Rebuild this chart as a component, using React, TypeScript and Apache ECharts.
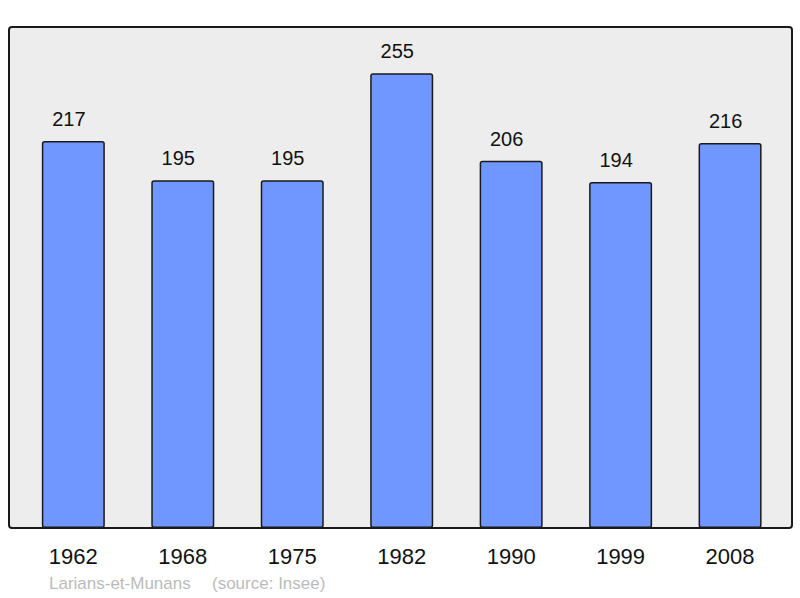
import React, { useEffect, useRef } from "react";
import * as echarts from "echarts";

const years = ["1962", "1968", "1975", "1982", "1990", "1999", "2008"];
const population = [217, 195, 195, 255, 206, 194, 216];
const communeName = "Larians-et-Munans";
const sourceNote = "(source: Insee)";

export default function App() {
  const ref = useRef<HTMLDivElement>(null);
  useEffect(() => {
    document.body.style.margin = "0";
    const chart = echarts.init(ref.current!, null, { renderer: "svg" });
    const font = "'Liberation Sans', Arial, sans-serif";
    chart.setOption({
      animation: false,
      backgroundColor: "#ffffff",
      textStyle: { fontFamily: font },
      graphic: [
        {
          type: "rect",
          z: -1,
          shape: { x: 9, y: 27, width: 783, height: 501, r: 3 },
          style: { fill: "#ededed", stroke: "#1a1a1a", lineWidth: 2 },
        },
        {
          type: "text",
          left: 49,
          top: 575,
          style: { text: communeName, fontSize: 17, fill: "#bbbbbb", fontFamily: font },
        },
        {
          type: "text",
          left: 212,
          top: 575,
          style: { text: sourceNote, fontSize: 17, fill: "#bbbbbb", fontFamily: font },
        },
      ],
      grid: { left: 18.6, right: 15.2, top: 27, bottom: 70, containLabel: false },
      xAxis: {
        type: "category",
        data: years,
        axisLine: { show: true, lineStyle: { color: "#1a1a1a", width: 2 } },
        axisTick: { show: false },
        axisLabel: { fontSize: 22, color: "#111", margin: 17, fontFamily: font },
      },
      yAxis: {
        type: "value",
        min: 0,
        max: 281,
        show: false,
        splitLine: { show: false },
      },
      series: [
        {
          type: "bar",
          data: population,
          barWidth: 63,
          itemStyle: {
            color: "#7097ff",
            borderColor: "#1a1a1a",
            borderWidth: 1.5,
            borderRadius: 2,
          },
          label: {
            show: true,
            position: "top",
            distance: 12,
            offset: [-4.5, 0],
            fontSize: 20,
            color: "#111",
            fontFamily: font,
          },
        },
      ],
    });
    return () => chart.dispose();
  }, []);
  return <div ref={ref} style={{ width: 800, height: 598 }} />;
}
